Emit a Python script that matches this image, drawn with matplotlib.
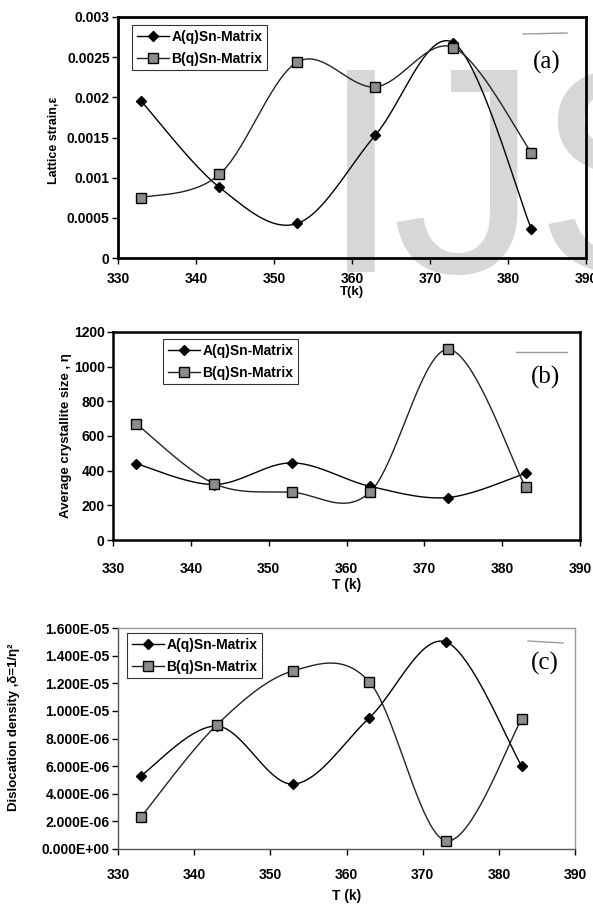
import numpy as np
import matplotlib.pyplot as plt
from matplotlib.ticker import FuncFormatter, MultipleLocator
from matplotlib.lines import Line2D

plt.rcParams['font.family'] = ['Liberation Sans', 'DejaVu Sans']
plt.rcParams['font.weight'] = 'bold'

# temperature (K)
temps = [333, 343, 353, 363, 373, 383]

# lattice strain
strain_a = [0.00195, 0.00088, 0.00043, 0.00153, 0.00268, 0.00036]
strain_b = [0.00075, 0.00104, 0.00244, 0.00213, 0.00262, 0.00131]

# average crystallite size
size_a = [440, 320, 445, 310, 245, 385]
size_b = [670, 325, 275, 275, 1100, 305]

# dislocation density
disl_a = [5.3e-6, 8.9e-6, 4.7e-6, 9.5e-6, 1.5e-5, 6.0e-6]
disl_b = [2.3e-6, 9.0e-6, 1.29e-5, 1.21e-5, 0.6e-6, 9.4e-6]

label_a = 'A(q)Sn-Matrix'
label_b = 'B(q)Sn-Matrix'


def smooth(x, y, n=40):
    # spreadsheet-style smoothed line: cubic bezier segments through every point
    p = np.column_stack([x, y]).astype(float)
    q = np.vstack([p[0], p, p[-1]])
    t = np.linspace(0, 1, n)[:, None]
    out = []
    for i in range(len(p) - 1):
        p0, p1, p2, p3 = q[i], q[i + 1], q[i + 2], q[i + 3]
        c1 = p1 + (p2 - p0) / 6
        c2 = p2 - (p3 - p1) / 6
        seg = ((1 - t) ** 3) * p1 + 3 * ((1 - t) ** 2) * t * c1 + 3 * (1 - t) * t ** 2 * c2 + t ** 3 * p2
        out.append(seg if i == 0 else seg[1:])
    out = np.vstack(out)
    return out[:, 0], out[:, 1]


def draw_series(ax, ys_a, ys_b):
    xs, ys = smooth(temps, ys_a)
    ax.plot(xs, ys, color='black', lw=1.0, zorder=3)
    xs, ys = smooth(temps, ys_b)
    ax.plot(xs, ys, color='#222222', lw=1.0, zorder=3)
    ax.plot(temps, ys_a, ls='none', marker='D', ms=5.5, mfc='black', mec='black', zorder=4)
    ax.plot(temps, ys_b, ls='none', marker='s', ms=7.5, mfc='#8c8c8c', mec='black', mew=1.0, zorder=4)


def legend(ax, anchor):
    handles = [
        Line2D([], [], color='black', lw=1.0, marker='D', ms=5.5, mfc='black', mec='black'),
        Line2D([], [], color='#222222', lw=1.0, marker='s', ms=7.5, mfc='#8c8c8c', mec='black'),
    ]
    leg = ax.legend(handles, [label_a, label_b], loc='upper left', bbox_to_anchor=anchor,
                    bbox_transform=fig.transFigure, frameon=True, fancybox=False,
                    edgecolor='black', fontsize=10, handlelength=2.3, handletextpad=0.2,
                    labelspacing=0.55, borderpad=0.35, borderaxespad=0)
    leg.get_frame().set_linewidth(0.8)
    for txt in leg.get_texts():
        txt.set_fontweight('bold')


def style_axes(ax, spine_lw, spine_col, xpad):
    ax.set_xlim(330, 390)
    ax.xaxis.set_major_locator(MultipleLocator(10))
    ax.set_facecolor('none')
    for s in ax.spines.values():
        s.set_linewidth(spine_lw)
        s.set_color(spine_col)
    ax.tick_params(axis='both', direction='out', length=4, width=1, labelsize=10)
    ax.tick_params(axis='x', pad=xpad)
    ax.tick_params(axis='y', pad=2)
    for lab in ax.get_xticklabels() + ax.get_yticklabels():
        lab.set_fontweight('bold')


fig = plt.figure(figsize=(5.93, 9.09), dpi=100)
W, H = 593, 909


def px_axes(l, t, r, b):
    return fig.add_axes([l / W, 1 - b / H, (r - l) / W, (b - t) / H])


# watermark behind panel (a)
for ch, xpx in [('I', 320), ('J', 391), ('S', 535)]:
    fig.text(xpx / W, 1 - 272 / H, ch, fontsize=212, color='#d7d7d7', fontweight='normal',
             family=['Liberation Sans Narrow', 'Liberation Sans'], ha='left', va='baseline',
             zorder=-1)

# (a) lattice strain
ax1 = px_axes(118, 17, 586, 258)
draw_series(ax1, strain_a, strain_b)
ax1.set_ylim(0, 0.003)
ax1.yaxis.set_major_locator(MultipleLocator(0.0005))
ax1.yaxis.set_major_formatter(FuncFormatter(lambda v, p: '%g' % round(v, 6)))
style_axes(ax1, 2.0, 'black', 6)
ax1.set_xlabel('T(k)', fontsize=9.5, fontweight='bold', labelpad=0)
ax1.set_ylabel('Lattice strain,ε', fontsize=9, fontweight='bold')
ax1.yaxis.set_label_coords(-(118 - 60) / (586 - 118), 0.49)
legend(ax1, (132 / W, 1 - 25 / H))
ax1.text(547 / W, 1 - 62 / H, '(a)', transform=fig.transFigure, fontsize=18,
         family='Liberation Serif', fontweight='normal', ha='center', va='center')

# (b) average crystallite size
ax2 = px_axes(113, 332, 580, 540)
draw_series(ax2, size_a, size_b)
ax2.set_ylim(0, 1200)
ax2.yaxis.set_major_locator(MultipleLocator(200))
style_axes(ax2, 1.8, 'black', 12)
ax2.set_xlabel('T (k)', fontsize=10, fontweight='bold', labelpad=1)
ax2.set_ylabel('Average crystallite size , η', fontsize=9.5, fontweight='bold')
ax2.yaxis.set_label_coords(-(113 - 72) / (580 - 113), 0.5)
legend(ax2, (163 / W, 1 - 339 / H))
ax2.text(545 / W, 1 - 377 / H, '(b)', transform=fig.transFigure, fontsize=18,
         family='Liberation Serif', fontweight='normal', ha='center', va='center')

# (c) dislocation density
ax3 = px_axes(118, 628, 575, 849)
draw_series(ax3, disl_a, disl_b)
ax3.set_ylim(0, 1.6e-5)
ax3.yaxis.set_major_locator(MultipleLocator(2e-6))
ax3.yaxis.set_major_formatter(FuncFormatter(lambda v, p: '%.3E' % v))
style_axes(ax3, 1.0, '#555555', 10)
ax3.spines['top'].set_color('#999999')
ax3.spines['right'].set_color('#999999')
ax3.set_xlabel('T (k)', fontsize=10, fontweight='bold', labelpad=5)
ax3.set_ylabel('Dislocation density ,δ=1/η²', fontsize=9.5, fontweight='bold')
ax3.yaxis.set_label_coords(-(118 - 20) / (575 - 118), 0.55)
legend(ax3, (127 / W, 1 - 633 / H))
ax3.text(545 / W, 1 - 663 / H, '(c)', transform=fig.transFigure, fontsize=18,
         family='Liberation Serif', fontweight='normal', ha='center', va='center')

# short stray strokes beside the panel letters
for x0, x1, y0, y1 in [(523, 567, 34, 33), (516, 567, 352, 352), (528, 563, 641, 643)]:
    fig.add_artist(Line2D([x0 / W, x1 / W], [1 - y0 / H, 1 - y1 / H], color='#9a9a9a', lw=1.0))

fig.savefig('out.png', dpi=100)
